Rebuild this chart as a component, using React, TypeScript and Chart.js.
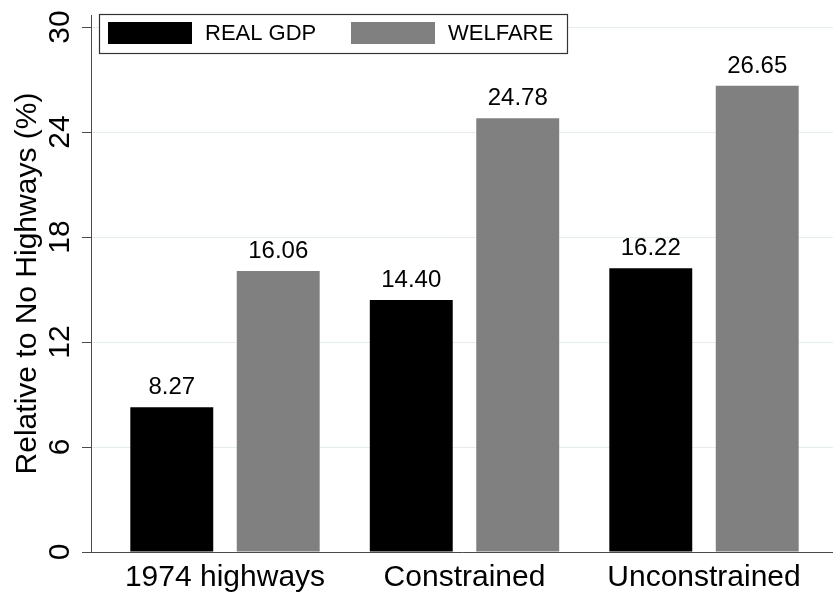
import { useEffect, useRef } from 'react';
import { Chart, registerables } from 'chart.js';

Chart.register(...registerables);

const categories = ['1974 highways', 'Constrained', 'Unconstrained'];
const seriesNames = ['REAL GDP', 'WELFARE'];
const realGdp = [8.27, 14.4, 16.22];
const welfare = [16.06, 24.78, 26.65];
const yTicks = [0, 6, 12, 18, 24, 30];
const xTicks = [0, 1, 2];

const FONT = "'Liberation Sans', Arial, Helvetica, sans-serif";
const AXIS = '#4a4a4a';

const valueLabels = {
  id: 'valueLabels',
  afterDatasetsDraw(chart: any) {
    const ctx = chart.ctx;
    ctx.save();
    ctx.font = `24px ${FONT}`;
    ctx.fillStyle = '#000';
    ctx.textAlign = 'center';
    ctx.textBaseline = 'alphabetic';
    chart.data.datasets.forEach((ds: any, di: number) => {
      const meta = chart.getDatasetMeta(di);
      meta.data.forEach((bar: any, i: number) => {
        const v = ds.data[i].y;
        ctx.fillText(v.toFixed(2), bar.x, bar.y - 13);
      });
    });
    ctx.restore();
  },
};

const boxLegend = {
  id: 'boxLegend',
  afterDraw(chart: any) {
    const ctx = chart.ctx;
    const left = chart.chartArea.left;
    const x0 = left + 8;
    const y0 = 14;
    const w = 468;
    const h = 39;
    ctx.save();
    ctx.fillStyle = '#fff';
    ctx.fillRect(x0, y0, w, h);
    ctx.strokeStyle = '#333';
    ctx.lineWidth = 1.2;
    ctx.strokeRect(x0 + 0.5, y0 + 0.5, w, h);
    ctx.font = `22px ${FONT}`;
    ctx.textBaseline = 'middle';
    ctx.textAlign = 'left';
    const offsets = [9, 252];
    chart.data.datasets.forEach((ds: any, di: number) => {
      const sx = x0 + offsets[di];
      ctx.fillStyle = ds.backgroundColor;
      ctx.fillRect(sx, y0 + 8, 84, 22);
      ctx.fillStyle = '#000';
      ctx.fillText(ds.label, sx + 97, y0 + 20);
    });
    ctx.restore();
  },
};

export default function App() {
  const ref = useRef<HTMLCanvasElement>(null);

  useEffect(() => {
    if (!ref.current) return;
    const chart = new Chart(ref.current, {
      type: 'bar',
      data: {
        datasets: [
          {
            label: seriesNames[0],
            data: realGdp.map((v, i) => ({ x: i, y: v })),
            backgroundColor: '#000000',
            borderWidth: 0,
            categoryPercentage: 0.889,
            barPercentage: 0.779,
          },
          {
            label: seriesNames[1],
            data: welfare.map((v, i) => ({ x: i, y: v })),
            backgroundColor: '#808080',
            borderWidth: 0,
            categoryPercentage: 0.889,
            barPercentage: 0.779,
          },
        ],
      },
      options: {
        animation: false,
        responsive: false,
        devicePixelRatio: 1,
        layout: { padding: { top: 15, right: 0, left: 0, bottom: 0 } },
        plugins: {
          legend: { display: false },
          tooltip: { enabled: false },
        },
        scales: {
          x: {
            type: 'linear',
            offset: false,
            min: -0.5595,
            max: 2.5386,
            afterBuildTicks: (axis: any) => {
              axis.ticks = xTicks.map((v) => ({ value: v }));
            },
            afterFit: (axis: any) => {
              axis.height = 44;
              axis.paddingLeft = 0;
              axis.paddingRight = 0;
            },
            grid: { display: true, offset: false, drawOnChartArea: false, drawTicks: false, color: 'rgba(0,0,0,0)' },
            border: { display: true, color: AXIS, width: 1 },
            ticks: {
              color: '#000',
              padding: 8,
              font: { family: FONT, size: 30 },
              callback: (v: any) => categories[v as number] ?? '',
            },
          },
          y: {
            type: 'linear',
            min: 0,
            max: 30.686,
            afterBuildTicks: (axis: any) => {
              axis.ticks = yTicks.map((v) => ({ value: v }));
            },
            afterFit: (axis: any) => {
              axis.width = 91;
              axis.paddingTop = 0;
              axis.paddingBottom = 0;
            },
            grid: {
              color: '#e4ecef',
              lineWidth: 1,
              tickColor: AXIS,
              tickLength: 9,
              drawTicks: true,
            },
            border: { display: true, color: AXIS, width: 1 },
            ticks: {
              color: '#000',
              minRotation: 90,
              maxRotation: 90,
              crossAlign: 'center',
              padding: 5,
              font: { family: FONT, size: 30 },
            },
            title: {
              display: true,
              text: 'Relative to No Highways (%)',
              color: '#000',
              font: { family: FONT, size: 30 },
              padding: { top: 10, bottom: 0 },
            },
          },
        },
      },
      plugins: [valueLabels, boxLegend],
    } as any);
    return () => chart.destroy();
  }, []);

  return (
    <div style={{ position: 'absolute', left: 0, top: 0, width: 833, height: 596 }}>
      <canvas ref={ref} width={833} height={596} />
    </div>
  );
}
